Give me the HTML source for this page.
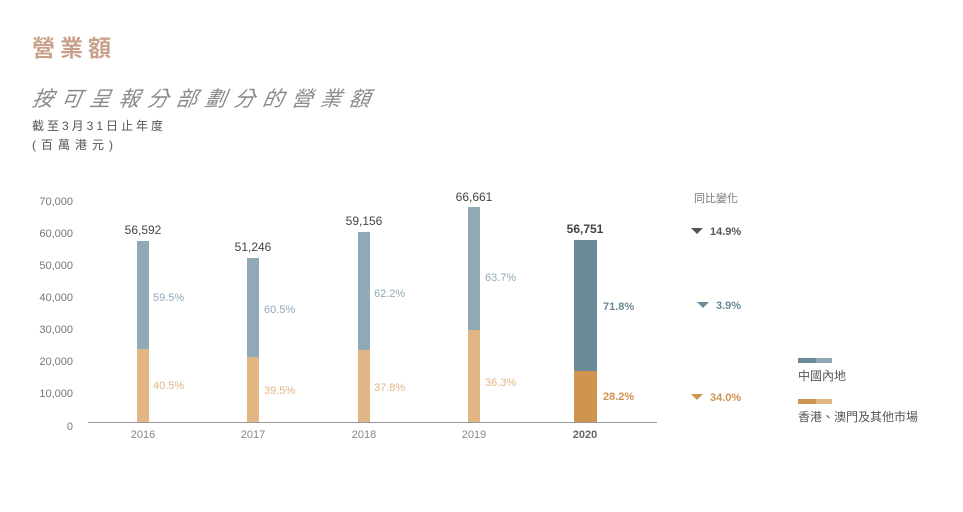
<!DOCTYPE html>
<html><head><meta charset="utf-8"><style>
body{margin:0;width:963px;height:507px;background:#fff;overflow:hidden}
svg{font-family:"Liberation Sans","Noto Sans CJK TC",sans-serif}
</style></head><body>
<svg width="963" height="507" viewBox="0 0 963 507">
<text x="32" y="56" font-size="23" fill="#c9a08a" font-weight="bold" letter-spacing="5">營業額</text>
<text x="32" y="106" font-size="21" fill="#8a8a8a" font-style="italic" letter-spacing="7.8" transform="skewX(-10) translate(18,0)">按可呈報分部劃分的營業額</text>
<text x="32" y="130" font-size="12" fill="#555" letter-spacing="3">截至3月31日止年度</text>
<text x="32" y="149" font-size="12" fill="#555" letter-spacing="5">(百萬港元)</text>
<g font-size="11" fill="#777" text-anchor="end">
<text x="73" y="205">70,000</text><text x="73" y="237">60,000</text><text x="73" y="269">50,000</text>
<text x="73" y="301">40,000</text><text x="73" y="333">30,000</text><text x="73" y="365">20,000</text>
<text x="73" y="397">10,000</text><text x="73" y="430">0</text>
</g>
<line x1="88" y1="422.5" x2="657" y2="422.5" stroke="#999" stroke-width="1"/>
<g fill="#8fa9b7">
<rect x="137" y="241" width="12" height="108"/>
<rect x="247" y="258" width="12" height="99"/>
<rect x="358" y="232" width="12" height="118"/>
<rect x="468" y="207" width="12" height="123"/>
</g>
<g fill="#e2b584">
<rect x="137" y="349" width="12" height="73"/>
<rect x="247" y="357" width="12" height="65"/>
<rect x="358" y="350" width="12" height="72"/>
<rect x="468" y="330" width="12" height="92"/>
</g>
<rect x="574" y="240" width="23" height="131" fill="#6b8a97"/>
<rect x="574" y="371" width="23" height="51" fill="#cf9450"/>
<g font-size="12" fill="#444" text-anchor="middle">
<text x="143" y="234">56,592</text><text x="253" y="251">51,246</text>
<text x="364" y="225">59,156</text><text x="474" y="201">66,661</text>
<text x="585" y="233" font-weight="bold">56,751</text>
</g>
<g font-size="11" fill="#888" text-anchor="middle">
<text x="143" y="438">2016</text><text x="253" y="438">2017</text><text x="364" y="438">2018</text><text x="474" y="438">2019</text>
<text x="585" y="438" font-weight="bold" fill="#666">2020</text>
</g>
<g font-size="11">
<text x="153" y="301" fill="#8fa9b7">59.5%</text><text x="264" y="313" fill="#8fa9b7">60.5%</text>
<text x="374" y="297" fill="#8fa9b7">62.2%</text><text x="485" y="281" fill="#8fa9b7">63.7%</text>
<text x="603" y="310" fill="#6b8a97" font-weight="bold">71.8%</text>
<text x="153" y="389" fill="#e2b584">40.5%</text><text x="264" y="394" fill="#e2b584">39.5%</text>
<text x="374" y="391" fill="#e2b584">37.8%</text><text x="485" y="386" fill="#e2b584">36.3%</text>
<text x="603" y="400" fill="#cf9450" font-weight="bold">28.2%</text>
</g>
<text x="694" y="202" font-size="11" fill="#777">同比變化</text>
<polygon points="691,228 703,228 697,234" fill="#555"/>
<text x="710" y="235" font-size="11" fill="#555" font-weight="bold">14.9%</text>
<polygon points="697,302 709,302 703,308" fill="#6b8a97"/>
<text x="716" y="309" font-size="11" fill="#6b8a97" font-weight="bold">3.9%</text>
<polygon points="691,394 703,394 697,400" fill="#cf9450"/>
<text x="710" y="401" font-size="11" fill="#cf9450" font-weight="bold">34.0%</text>
<rect x="798" y="358" width="18" height="5" fill="#6b8a97"/><rect x="816" y="358" width="16" height="5" fill="#8fa9b7"/>
<text x="798" y="380" font-size="12" fill="#555">中國內地</text>
<rect x="798" y="399" width="18" height="5" fill="#cf9450"/><rect x="816" y="399" width="16" height="5" fill="#e2b584"/>
<text x="798" y="421" font-size="12" fill="#555">香港、澳門及其他市場</text>
</svg>
</body></html>
